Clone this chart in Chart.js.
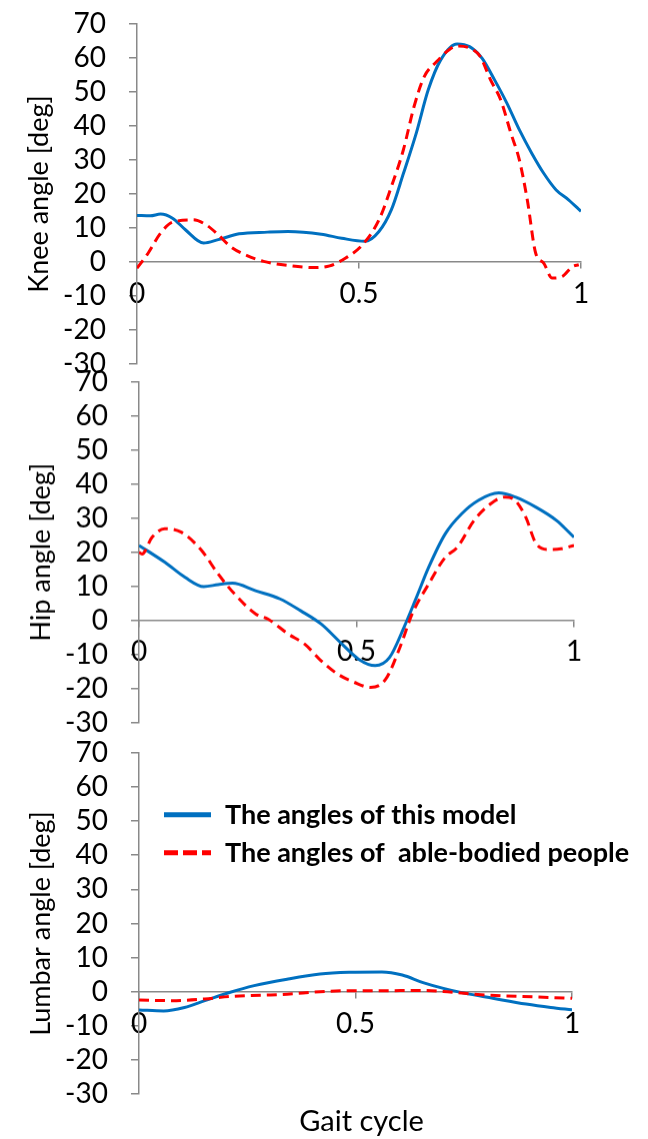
<!DOCTYPE html>
<html>
<head>
<meta charset="utf-8">
<title>Joint angles over the gait cycle</title>
<script src="https://cdn.jsdelivr.net/npm/chart.js@4.4.1/dist/chart.umd.min.js"></script>
<style>
    body { margin: 0; background: #fff; width: 648px; height: 1139px; position: relative; overflow: hidden; }
    canvas { position: absolute; left: 0; }
</style>
</head>
<body>
<canvas id="kneeChart" width="648" height="420"></canvas>
<canvas id="hipChart" width="648" height="420"></canvas>
<canvas id="lumbarChart" width="648" height="440"></canvas>

<script>
// Ticks shared by all three panels
const yTickValues = [-30, -20, -10, 0, 10, 20, 30, 40, 50, 60, 70];
const xTickValues = [0, 0.5, 1];
const xTickLabels = ['0', '0.5', '1'];

const seriesLabels = ['The angles of this model', 'The angles of  able-bodied people'];

// Knee
const kneeModelX = [0, 0.03, 0.053, 0.08, 0.109, 0.15, 0.183, 0.23, 0.294, 0.34, 0.415, 0.461, 0.513, 0.545, 0.573, 0.60, 0.629, 0.656, 0.684, 0.721, 0.749, 0.777, 0.805, 0.833, 0.861, 0.889, 0.916, 0.944, 0.972, 1];
const kneeModelY = [13.7, 13.6, 14.1, 12.9, 9.5, 5.6, 6.6, 8.3, 8.8, 9.0, 8.2, 7.0, 6.1, 9.0, 15.4, 26, 37.9, 50.6, 59.4, 64.1, 63.3, 59.9, 53.6, 46.7, 38.9, 32, 26.1, 21.2, 18.3, 14.9];
const kneeHumanX = [0, 0.025, 0.053, 0.08, 0.127, 0.155, 0.183, 0.21, 0.248, 0.285, 0.34, 0.396, 0.434, 0.47, 0.508, 0.545, 0.573, 0.60, 0.624, 0.647, 0.675, 0.703, 0.721, 0.749, 0.773, 0.796, 0.819, 0.842, 0.861, 0.879, 0.898, 0.916, 0.935, 0.958, 0.981, 0.995];
const kneeHumanY = [-1.8, 2.6, 8.5, 11.7, 12.4, 11.0, 8.0, 4.6, 1.9, 0.2, -1.0, -1.6, -1.1, 1.2, 5.1, 12.4, 22.2, 33, 45.7, 54.5, 58.9, 62.4, 63.5, 62.9, 60.4, 53.6, 47.7, 37.9, 30.1, 18.3, 2.6, -0.3, -4.7, -4.2, -1.3, -0.8];

// Hip
const hipModelX = [0, 0.059, 0.106, 0.149, 0.182, 0.215, 0.268, 0.324, 0.372, 0.419, 0.467, 0.505, 0.543, 0.576, 0.609, 0.638, 0.666, 0.704, 0.742, 0.78, 0.827, 0.865, 0.913, 0.96, 1];
const hipModelY = [22.0, 17.1, 12.6, 9.9, 10.5, 10.9, 8.7, 6.3, 2.8, -1.1, -7.0, -11.4, -13.3, -10.9, -2.1, 6.8, 15.6, 25.4, 31.3, 35.2, 37.4, 36.2, 33.2, 29.3, 24.4];
const hipHumanX = [0, 0.007, 0.03, 0.059, 0.097, 0.144, 0.182, 0.22, 0.268, 0.296, 0.343, 0.381, 0.419, 0.457, 0.495, 0.533, 0.567, 0.6, 0.628, 0.666, 0.704, 0.732, 0.77, 0.808, 0.842, 0.865, 0.889, 0.913, 0.941, 0.97, 1];
const hipHumanY = [20.0, 19.5, 24.4, 26.9, 25.9, 20.5, 13.6, 7.7, 1.9, 0.4, -4.0, -7.0, -11.9, -15.8, -18.2, -19.7, -17.3, -7.9, 1.9, 10.7, 18.5, 21.5, 29.3, 34.2, 36.2, 35.2, 30.3, 22.5, 20.8, 21.0, 22.0];

// Lumbar
const lumbarModelX = [0, 0.057, 0.105, 0.152, 0.209, 0.266, 0.342, 0.418, 0.485, 0.561, 0.608, 0.656, 0.703, 0.751, 0.817, 0.894, 0.951, 1];
const lumbarModelY = [-5.3, -5.6, -4.6, -2.6, -0.2, 1.8, 3.7, 5.2, 5.7, 5.8, 4.9, 2.7, 1.0, -0.4, -1.9, -3.6, -4.6, -5.3];
const lumbarHumanX = [0, 0.076, 0.152, 0.209, 0.285, 0.342, 0.418, 0.485, 0.561, 0.646, 0.703, 0.77, 0.846, 0.913, 1];
const lumbarHumanY = [-2.4, -2.6, -2.1, -1.4, -1.0, -0.7, 0.0, 0.3, 0.3, 0.4, 0.1, -0.7, -1.2, -1.5, -1.9];

const axisGrey = '#898989';
const modelBlue = '#0070C0';
const humanRed = '#FF0000';

Chart.defaults.font.family = 'Lato';
Chart.defaults.color = '#000';

function toPoints(xs, ys) {
    return xs.map((x, i) => ({ x: x, y: ys[i] }));
}

// Legend drawn inside the lumbar plot
const insideLegend = {
    id: 'insideLegend',
    afterDraw(chart) {
        const ctx = chart.ctx;
        const area = chart.chartArea;
        ctx.save();
        ctx.font = 'bold 27px Lato';
        ctx.textBaseline = 'middle';
        ctx.fillStyle = '#000';
        chart.data.datasets.forEach((ds, i) => {
            const y = area.top + 62 + i * 38;
            ctx.beginPath();
            ctx.strokeStyle = ds.borderColor;
            ctx.lineWidth = 5;
            ctx.setLineDash(i === 0 ? [] : [14, 5]);
            ctx.moveTo(area.left + 25, y);
            ctx.lineTo(area.left + 72, y);
            ctx.stroke();
            ctx.fillText(ds.label, area.left + 86, y);
        });
        ctx.restore();
    }
};

// "Gait cycle" caption under the last panel
const gaitCaption = {
    id: 'gaitCaption',
    afterDraw(chart) {
        const ctx = chart.ctx;
        const x = chart.scales.x.getPixelForValue(0.5) + 6;
        ctx.save();
        ctx.font = '29px Lato';
        ctx.textAlign = 'center';
        ctx.textBaseline = 'middle';
        ctx.fillStyle = '#000';
        ctx.fillText('Gait cycle', x, chart.chartArea.bottom + 27);
        ctx.restore();
    }
};

// Move and resize a chart's canvas so its plot area spans top..bottom on the page
// and ends at the given right edge
function placePlot(chart, top, bottom, right) {
    for (let pass = 0; pass < 3; pass++) {
        const area = chart.chartArea;
        chart.options.layout.padding.right += area.right - right;
        const marginTop = area.top;
        const marginBottom = chart.height - area.bottom;
        chart.canvas.style.top = (top - marginTop) + 'px';
        chart.resize(chart.width, marginTop + (bottom - top) + marginBottom);
        chart.update();
    }
}

function makeAngleChart(id, yTitle, modelX, modelY, humanX, humanY, padding, plugins) {
    const ctx = document.getElementById(id).getContext('2d');
    return new Chart(ctx, {
        type: 'line',
        data: {
            datasets: [{
                label: seriesLabels[0],
                data: toPoints(modelX, modelY),
                borderColor: modelBlue,
                borderWidth: 3,
                pointRadius: 0,
                cubicInterpolationMode: 'monotone',
                order: 1
            }, {
                label: seriesLabels[1],
                data: toPoints(humanX, humanY),
                borderColor: humanRed,
                borderWidth: 3,
                borderDash: [10, 6],
                pointRadius: 0,
                cubicInterpolationMode: 'monotone',
                order: 0
            }]
        },
        options: {
            responsive: false,
            animation: false,
            layout: { padding: padding },
            plugins: {
                legend: { display: false },
                tooltip: { enabled: false }
            },
            scales: {
                x: {
                    type: 'linear',
                    position: { y: 0 },
                    min: 0,
                    max: 1,
                    afterBuildTicks: (scale) => {
                        scale.ticks = xTickValues.map(v => ({ value: v }));
                    },
                    ticks: {
                        font: { size: 28 },
                        padding: 9,
                        maxRotation: 0,
                        autoSkip: false,
                        callback: (value) => xTickLabels[xTickValues.indexOf(value)]
                    },
                    grid: { drawOnChartArea: false, tickLength: 6, color: axisGrey, lineWidth: 1.5 },
                    border: { color: axisGrey, width: 1.5 }
                },
                y: {
                    position: 'left',
                    min: -30,
                    max: 70,
                    afterBuildTicks: (scale) => {
                        scale.ticks = yTickValues.map(v => ({ value: v }));
                    },
                    afterFit: (scale) => { scale.width = 137; },
                    ticks: { font: { size: 28 }, padding: 23, autoSkip: false },
                    grid: { drawOnChartArea: false, tickLength: 8, color: axisGrey, lineWidth: 1.5 },
                    border: { color: axisGrey, width: 1.5 },
                    title: {
                        display: true,
                        text: yTitle,
                        font: { size: 27 },
                        padding: { top: 23, bottom: 0 }
                    }
                }
            }
        },
        plugins: plugins || []
    });
}

const kneeChart = makeAngleChart('kneeChart', 'Knee angle [deg]', kneeModelX, kneeModelY, kneeHumanX, kneeHumanY,
    { top: 0, bottom: 0, left: 0, right: 67 });
const hipChart = makeAngleChart('hipChart', 'Hip angle [deg]', hipModelX, hipModelY, hipHumanX, hipHumanY,
    { top: 0, bottom: 0, left: 2, right: 75 });
const lumbarChart = makeAngleChart('lumbarChart', 'Lumbar angle [deg]', lumbarModelX, lumbarModelY, lumbarHumanX, lumbarHumanY,
    { top: 0, bottom: 50, left: 2, right: 76 }, [insideLegend, gaitCaption]);

placePlot(kneeChart, 24, 365, 581);
placePlot(hipChart, 382, 722, 574);
placePlot(lumbarChart, 753, 1095, 572);
</script>
</body>
</html>
